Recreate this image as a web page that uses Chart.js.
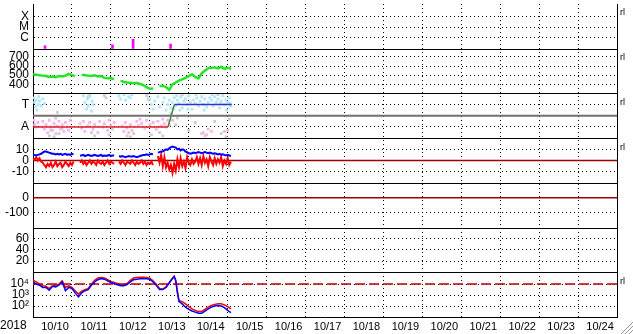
<!DOCTYPE html>
<html lang="en">
<head>
<meta charset="UTF-8">
<title>Space weather 2018/10</title>
<script src="https://cdn.jsdelivr.net/npm/chart.js@4.4.1/dist/chart.umd.min.js"></script>
<style>
  html, body { margin:0; padding:0; background:#fff; }
</style>
</head>
<body>
<canvas id="myChart" width="633" height="334"></canvas>
<script>
// one label per day column, x values are hours from 10/10 00:00
var days = ['10/10','10/11','10/12','10/13','10/14','10/15','10/16','10/17','10/18','10/19','10/20','10/21','10/22','10/23','10/24'];
var yearLabel = '2018';

// x-ray flares (hour, peak flux)
var flareHours = [7.4, 49, 61.7, 84.8];
var flareFlux = [1.5e-7, 1.9e-7, 6.6e-7, 2.3e-7];
var xrayFloor = 8e-8;

// solar wind speed, every 2 hours from h0
var speed = [510,505,500,495,490,480,485,478,490,485,
             495,515,500,490,null,505,500,495,490,498,
             485,490,470,465,465,455,null,440,425,420,
             418,412,415,405,390,368,352,355,null,380,
             385,370,340,400,420,440,455,470,490,510,
             480,465,520,550,575,580,585,575,590,570,
             580,570];

// IMF sector: scatter of angles, toward (top) / away (bottom) / other
var towardPts = [[0.5,1.6],[1,1.2],[1.5,0.8],[2,1.4],[2.5,0.5],[3,1.0],[3.5,1.7],[4,1.3],[5,0.9],[6,1.5],[7,1.1],
  [31,1.8],[32,1.2],[33,0.6],[33.5,1.5],[34,0.9],[35,1.7],[36,0.4],[36.5,1.3],[37,1.0],
  [53,1.8],[54,1.5],[56,1.9],[57,1.4],[59,1.7],[60,1.6],[61,1.9],
  [72,1.5],[73,1.0],[74,0.6],[75,1.3],[77,1.7],[78,0.8],[80,1.2],[81,1.6],[82,0.5],[83,1.0],[84,1.4],[85,0.7],
  [86,1.2],[87,1.6],[88,0.9],[89,1.4],[90,1.1],[91,1.7],[92,0.7],[93,1.3],[94,1.5],[95,1.0],[96,1.8],[97,1.2],
  [98,0.6],[99,1.4],[100,1.1],[101,1.6],[102,0.9],[103,1.3],[104,1.7],[105,1.0],[106,1.5],[107,0.8],[108,1.2],
  [109,1.6],[110,1.4],[111,0.9],[112,1.7],[113,1.2],[114,1.5],[115,0.7],[116,1.3],[117,1.8],[118,1.0],[119,1.4],
  [120,1.2],[121,1.6],[122,0.9],[86.5,0.6],[88.5,1.8],[90.5,0.5],[95.5,0.6],[100.5,1.9],[105.5,0.5],[110.5,1.9],
  [115.5,1.1],[119.5,0.5],[121.5,1.1]];
var awayPts = [[0.5,-0.4],[1,-0.8],[2,-1.0],[3,-0.6],
  [6,-0.5],[7,-1.2],[8,-0.8],[9,-1.5],[10,-0.4],[11,-1.0],[12,-1.3],[13,-0.7],[14,-1.6],[15,-0.9],[16,-0.5],
  [17,-1.2],[18,-0.8],[19,-1.4],[20,-0.6],[21,-1.0],[22,-1.3],[23,-0.4],
  [29,-0.7],[30,-1.1],[31,-0.5],[32,-1.4],[34,-0.9],[35,-0.6],[37,-1.2],[38,-0.8],[40,-1.5],[41,-0.5],
  [43,-1.0],[44,-0.7],[46,-1.3],[47,-0.4],[48,-0.9],[50,-0.6],
  [55,-0.9],[56,-1.4],[57,-0.6],[58,-1.1],[60,-0.8],[61,-1.3],
  [64,-0.5],[65,-0.9],[66,-0.3],[67,-0.7],[69,-1.1],[70,-0.4],[72,-0.8],[74,-0.6],[76,-1.2],[77,-0.5],
  [79,-0.9],[80,-0.3],[81,-0.7],[82,-1.0],[83,-0.4],[84,-0.8],
  [105,-1.5],[107,-1.7],[110,-1.4],[120,-1.3]];
var otherPts = [[10,-1.8],[11,-1.3],[13,-1.9],[14,-0.2],[15,0.3],[16,-1.6],[18,-1.1],[34,1.7],[35,1.9],[36,-1.5],
  [38,-1.8],[44,1.8],[45,1.6],[47,-1.7],[49,-1.2],[58,-1.8],[59,-1.5],[60,-1.9],[62,-1.6],[70,1.8],[71,1.5],
  [73,-1.7],[78,-1.5],[80,-1.8],[85,0.2],[86,-0.4],[88,-0.8],[89,-0.2],[92,1.9],[96,-1.3],[100,-0.6],[104,-1.6],
  [106,-1.8],[108,-1.2],[112,-0.5],[114,1.9],[116,-1.6],[118,-1.4],[119,-1.9],[121,-0.3]];
// sector polarity step: away -> toward
var awayStep = [[0,-1],[83.2,-1]];
var turnStep = [[83.2,-1],[87.1,1]];
var towardStep = [[87.1,1],[122.5,1]];
var fullSpan = [0, 360];

// IMF Bt and Bz (nT), hourly from h0
var bt = [5,5,4.5,5,5.5,6,
  7,8,8,7.5,7,6.5,6,
  6,5.5,6,5.5,6,5,5.5,6,5,5.5,5,6,5.5,
  null,null,null,
  4.5,4.5,5,4,4.5,5,4.5,4,4.5,5,4.5,4,4.5,5,4,4.5,4,4.5,5,4,4.5,4.5,
  null,null,
  4,3.5,4,3.5,3,3.5,4,3.5,3.5,4,3.5,3,3.5,4,4.5,5,5,5.5,5,5.5,6,5.5,
  null,null,
  7,7.5,8,8,
  9,10,9.5,11,12,12.5,
  12,11.5,10,10.5,9,10,9.5,8,7.5,
  6.5,6,6.5,7,6.5,
  7,7.5,7,6.5,7,7.5,7,6.5,7,6.5,6,6.5,6,
  5.5,6,5,5.5,5,4.5,5,4.5,4];
var bz = [2,1,3,0,2,-1,
  -2,-4,-6,-3,-5,-2,-6,
  -4,-1,-5,-3,-2,-6,-4,-1,-3,-5,-2,-4,-1,
  null,null,null,
  -2,0,-3,-1,-4,-2,0,-3,-1,-2,-4,0,-2,-3,-1,-4,-2,0,-3,-1,-2,-3,
  null,null,
  -1,-3,0,-2,-4,-1,-2,-3,0,-2,-4,-1,-3,-2,0,-3,-1,-4,-2,-3,-1,-4,
  null,null,
  4,-2,5,-5,
  3,-6,-2,-8,-4,-11,
  -3,-9,1,-6,2,-5,-1,-7,3,
  -2,-4,1,-3,-1,
  3,-3,2,-4,4,-2,1,-5,3,-1,-4,2,-3,
  1,-2,3,-5,0,-3,2,-4,-1];

// energetic electrons
var eHours = [0,2,4,6,8,10,12,14,16,18,20,22,24,26,28,30,32,34,36,38,40,42,44,46,48,50,52,54,56,58,
  60,62,64,66,68,70,72,74,76,78,80,82,84,86,87,88,89,90,92,94,96,98,100,102,104,106,108,110,112,114,116,118,120,122];
var eBlue = [15800,10000,7940,5010,5010,2820,6310,5620,7940,15800,2510,5010,3980,1580,708,1580,2510,3160,7940,15800,
  25100,31600,28200,20000,14100,11200,8910,7080,7080,8910,15800,25100,28200,31600,31600,31600,28200,15800,7940,3160,
  3160,5010,12600,31600,50100,20000,1580,251,158,79,50,35,28,22,22,35,56,79,100,112,100,71,40,25];
var eRed = [22400,15800,10000,7080,6310,3980,7080,7940,10000,20000,5010,7080,5010,2510,1260,2240,3160,3980,10000,22400,
  35500,39800,35500,25100,17800,14100,11200,8910,8910,11200,22400,35500,39800,41700,41700,39800,35500,20000,10000,3980,
  3550,5620,14100,35500,52500,22400,2510,316,251,158,89,56,40,32,32,50,79,112,141,158,158,126,89,56];
var eAlert = 1e4;

// axis ticks per panel
var xrayTicks = [1e-4,1e-5,1e-6], xrayText = ['X','M','C'];
var speedTicks = [400,500,600,700];
var sectorTicks = [1,-1], sectorText = ['T','A'];
var bzTicks = [10,0,-10];
var dstTicks = [0,-100];
var kpTicks = [20,40,60];
var eTicks = [1e4,1e3,1e2], eText = ['10\u2074','10\u00b3','10\u00b2'];

var markedPanels = ['yX','ySpd','ySec','yBz','yE'];

Chart.defaults.font.family = '"Liberation Sans", Arial, sans-serif';
Chart.defaults.color = '#000';

var panelAxis = function(type, min, max, vals, txt){
    txt = txt || vals.map(String);
    return {
        type: type, min: min, max: max, position: 'left', stack: 'panels', stackWeight: 1,
        offset: false, beginAtZero: false,
        grid: { color: '#000', lineWidth: 1, drawTicks: false },
        border: { display: true, color: '#000', width: 1, dash: [1, 3] },
        ticks: { padding: 4, color: '#000', font: { size: 12 }, autoSkip: false,
            callback: function(v){ var i = vals.indexOf(v); return i < 0 ? '' : txt[i]; } },
        afterBuildTicks: function(s){ s.ticks = vals.map(function(v){ return { value: v }; }); },
        afterFit: function(s){ s.width = 33; s.paddingTop = 0; s.paddingBottom = 0; }
    };
};

var pairs = function(arr){ return arr.map(function(p){ return { x: p[0], y: p[1] }; }); };
var hourly = function(arr, step){ return arr.map(function(v, i){ return { x: i * step, y: v }; }); };
var flat = function(v){ return fullSpan.map(function(h){ return { x: h, y: v }; }); };
var dots = function(arr, color){
    return { yAxisID: 'ySec', data: pairs(arr), showLine: false, pointRadius: 2, pointStyle: 'rect',
             pointBackgroundColor: color, pointBorderWidth: 0, order: 10 };
};

var panelFrame = {
    id: 'panelFrame',
    afterDraw: function(chart){
        var ctx = chart.ctx, a = chart.chartArea;
        ctx.save();
        ctx.strokeStyle = '#000';
        ctx.lineWidth = 1;
        ctx.beginPath();
        ['yX','ySpd','ySec','yBz','yDst','yKp'].forEach(function(id){
            var y = Math.round(chart.scales[id].bottom) + 0.5;
            ctx.moveTo(a.left, y); ctx.lineTo(a.right, y);
        });
        var xr = Math.round(a.right) + 0.5;
        ctx.moveTo(xr, a.top); ctx.lineTo(xr, a.bottom);
        ctx.stroke();
        // small marks at right of some panels
        ctx.fillStyle = '#000';
        ctx.font = '9px "Liberation Sans", Arial, sans-serif';
        ctx.textBaseline = 'middle';
        ctx.textAlign = 'left';
        markedPanels.forEach(function(id){ ctx.fillText('rl', a.right + 3, chart.scales[id].top + 9); });
        // year at start of time axis
        ctx.font = '12px "Liberation Sans", Arial, sans-serif';
        ctx.fillText(yearLabel, 0, 326);
        // window grip
        ctx.strokeStyle = '#999';
        ctx.beginPath();
        [4, 8, 12].forEach(function(k){ ctx.moveTo(chart.width - k, chart.height); ctx.lineTo(chart.width, chart.height - k); });
        ctx.stroke();
        ctx.restore();
    }
};

const ctx = document.getElementById('myChart').getContext('2d');
const myChart = new Chart(ctx, {
    type: 'line',
    data: {
        datasets: [
            { type: 'bar', yAxisID: 'yX',
              data: flareHours.map(function(h, i){ return { x: h, y: [xrayFloor, flareFlux[i]] }; }),
              backgroundColor: '#ff00ff', barThickness: 2, grouped: false },
            { yAxisID: 'ySpd', data: hourly(speed, 2), borderColor: '#22e622', borderWidth: 2.5 },
            dots(towardPts, '#b0e8f8'),
            dots(awayPts, '#f8b4ee'),
            dots(otherPts, '#cdcdcd'),
            { yAxisID: 'ySec', data: flat(0), borderColor: '#707070', borderWidth: 2 },
            { yAxisID: 'ySec', data: pairs(awayStep), borderColor: '#e02020', borderWidth: 1.5 },
            { yAxisID: 'ySec', data: pairs(turnStep), borderColor: '#3a8a3a', borderWidth: 1.5 },
            { yAxisID: 'ySec', data: pairs(towardStep), borderColor: '#3030d0', borderWidth: 1.5 },
            { yAxisID: 'yBz', data: hourly(bt, 1), borderColor: '#0000ff', borderWidth: 2 },
            { yAxisID: 'yBz', data: hourly(bz, 1), borderColor: '#ff0000', borderWidth: 2 },
            { yAxisID: 'yBz', data: flat(0), borderColor: '#a00000', borderWidth: 1.5 },
            { yAxisID: 'yDst', data: flat(0), borderColor: '#a00000', borderWidth: 1.5 },
            { yAxisID: 'yE', data: flat(eAlert), borderColor: '#c00000', borderWidth: 1.5, borderDash: [10, 4] },
            { yAxisID: 'yE', data: eHours.map(function(h, i){ return { x: h, y: eBlue[i] }; }), borderColor: '#0000ff', borderWidth: 1.5, order: -1 },
            { yAxisID: 'yE', data: eHours.map(function(h, i){ return { x: h, y: eRed[i] }; }), borderColor: '#ff0000', borderWidth: 1.5 }
        ]
    },
    options: {
        responsive: false,
        animation: false,
        events: [],
        layout: { padding: { top: 2, right: 16, left: 0, bottom: 0 } },
        elements: { point: { radius: 0 }, line: { tension: 0 } },
        plugins: { legend: { display: false }, tooltip: { enabled: false } },
        scales: {
            x: {
                type: 'linear', min: 0, max: 360, offset: false,
                grid: { color: '#000', lineWidth: 1, drawTicks: false, offset: false },
                border: { display: true, color: '#000', width: 1, dash: [1, 3] },
                ticks: { stepSize: 24, autoSkip: false, maxRotation: 0, labelOffset: 22, padding: 3,
                         font: { size: 11 }, color: '#000',
                         callback: function(v){ return days[v / 24] || ''; } },
                afterFit: function(s){ s.height = 17; s.paddingLeft = 0; s.paddingRight = 0; }
            },
            // listed bottom to top
            yE: panelAxis('logarithmic', 10, 1.2e5, eTicks, eText),
            yKp: panelAxis('linear', 0, 80, kpTicks),
            yDst: panelAxis('linear', -200, 100, dstTicks),
            yBz: panelAxis('linear', -20, 20, bzTicks),
            ySec: panelAxis('linear', -2, 2, sectorTicks, sectorText),
            ySpd: panelAxis('linear', 300, 790, speedTicks),
            yX: panelAxis('logarithmic', xrayFloor, 1.7e-3, xrayTicks, xrayText)
        }
    },
    plugins: [panelFrame]
});
</script>
</body>
</html>
